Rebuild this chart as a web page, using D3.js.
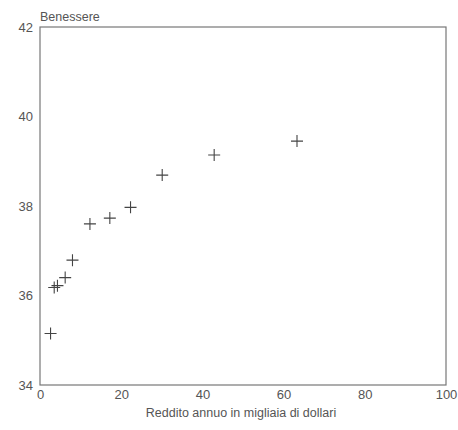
<!DOCTYPE html>
<html><head><meta charset="utf-8">
<script src="https://cdn.jsdelivr.net/npm/d3@7"></script>
<style>body{margin:0;background:#fff;}svg{display:block;font-family:"Liberation Sans","DejaVu Sans",sans-serif;}</style>
</head><body>
<svg id="c" width="458" height="430"></svg>
<script>
const incomes = [2.6, 3.5, 4.3, 6.2, 8.0, 12.3, 17.2, 22.3, 30.1, 42.9, 63.3];
const wellbeing = [35.15, 36.18, 36.22, 36.40, 36.79, 37.60, 37.73, 37.97, 38.69, 39.14, 39.45];
const xTicks = [0, 20, 40, 60, 80, 100];
const yTicks = [34, 36, 38, 40, 42];
const xTitle = "Reddito annuo in migliaia di dollari";
const yTitle = "Benessere";

const svg = d3.select("#c");
const L = 40, R = 446, T = 27, B = 385;
const x = d3.scaleLinear().domain([0, 100]).range([L, R]);
const y = d3.scaleLinear().domain([34, 42]).range([B, T]);

svg.append("rect").attr("x", L).attr("y", T).attr("width", R - L).attr("height", B - T)
  .attr("fill", "none").attr("stroke", "#777").attr("stroke-width", 1.2);

const xa = svg.append("g").attr("transform", `translate(0,${B})`)
  .call(d3.axisBottom(x).tickValues(xTicks).tickSize(0).tickPadding(5).tickFormat(d3.format("d")));
xa.select(".domain").remove();
xa.selectAll("text").attr("fill", "#555").style("font-size", "13px");

const ya = svg.append("g").attr("transform", `translate(${L},0)`)
  .call(d3.axisLeft(y).tickValues(yTicks).tickSize(0).tickPadding(7).tickFormat(d3.format("d")));
ya.select(".domain").remove();
ya.selectAll("text").attr("fill", "#555").style("font-size", "13px");

svg.append("text").attr("x", L).attr("y", 21).attr("fill", "#555")
  .style("font-size", "12.5px").text(yTitle);
svg.append("text").attr("x", 241).attr("y", 417).attr("text-anchor", "middle")
  .attr("fill", "#555").style("font-size", "12.5px").text(xTitle);

const pts = incomes.map((v, i) => [v, wellbeing[i]]);
const s = 6;
const g = svg.append("g").attr("stroke", "#444").attr("stroke-width", 1.1);
g.selectAll("path.p").data(pts).enter().append("path")
  .attr("d", d => {
    const px = x(d[0]), py = y(d[1]);
    return `M${px - s},${py}H${px + s}M${px},${py - s}V${py + s}`;
  });
</script>
</body></html>
